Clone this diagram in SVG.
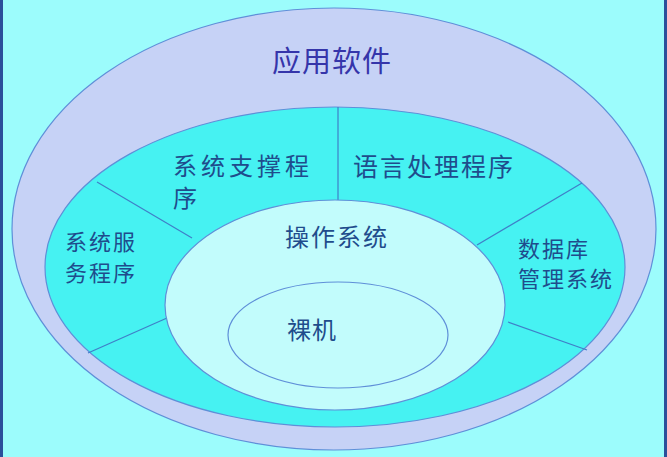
<svg xmlns="http://www.w3.org/2000/svg" width="667" height="457" viewBox="0 0 667 457">
<style>
.t{font-family:"Noto Sans CJK SC","Noto Sans",sans-serif;fill:#1f4c8c;}
.ring{stroke:#5f8fd8;stroke-width:1.2;}
.div{stroke:#3f7fc8;stroke-width:1.2;fill:none;}
</style>
<rect x="0" y="0" width="667" height="457" fill="#9cfcfc"/>
<rect x="0" y="0" width="3" height="457" fill="#2a4f9a"/>
<rect x="664" y="0" width="3" height="457" fill="#2a4f9a"/>
<g id="app">
<ellipse cx="334" cy="229" rx="322" ry="221" fill="#c6d2f6" class="ring"/>
<text class="t" x="332" y="72" font-size="29" text-anchor="middle" letter-spacing="1" style="fill:#3535aa">应用软件</text>
</g>
<g id="system-software">
<ellipse cx="335" cy="267" rx="290" ry="160" fill="#46f2f2" class="ring"/>
</g>
<g id="dividers">
<line class="div" x1="338" y1="107" x2="338" y2="200"/>
<line class="div" x1="97" y1="182" x2="192" y2="238"/>
<line class="div" x1="88" y1="353" x2="167" y2="318"/>
<line class="div" x1="582" y1="183" x2="477" y2="245"/>
<line class="div" x1="508" y1="322" x2="587" y2="350"/>
</g>
<g id="support">
<text class="t" x="173" y="175" font-size="24" letter-spacing="4">系统支撑程</text>
<text class="t" x="173" y="207" font-size="24">序</text>
</g>
<g id="lang">
<text class="t" x="353" y="176" font-size="25" letter-spacing="2">语言处理程序</text>
</g>
<g id="service">
<text class="t" x="65" y="250" font-size="22" letter-spacing="2">系统服</text>
<text class="t" x="65" y="281" font-size="22" letter-spacing="2">务程序</text>
</g>
<g id="dbms">
<text class="t" x="518" y="257" font-size="22" letter-spacing="2">数据库</text>
<text class="t" x="518" y="287" font-size="22" letter-spacing="2">管理系统</text>
</g>
<g id="os">
<ellipse cx="335" cy="305" rx="170" ry="105" fill="#c2fcfc" class="ring"/>
<text class="t" x="337" y="246" font-size="24" text-anchor="middle" letter-spacing="2">操作系统</text>
</g>
<g id="bare">
<ellipse cx="338" cy="335" rx="110" ry="53" fill="#c2fcfc" class="ring"/>
<text class="t" x="312" y="339" font-size="24" text-anchor="middle" letter-spacing="1">裸机</text>
</g>
</svg>
